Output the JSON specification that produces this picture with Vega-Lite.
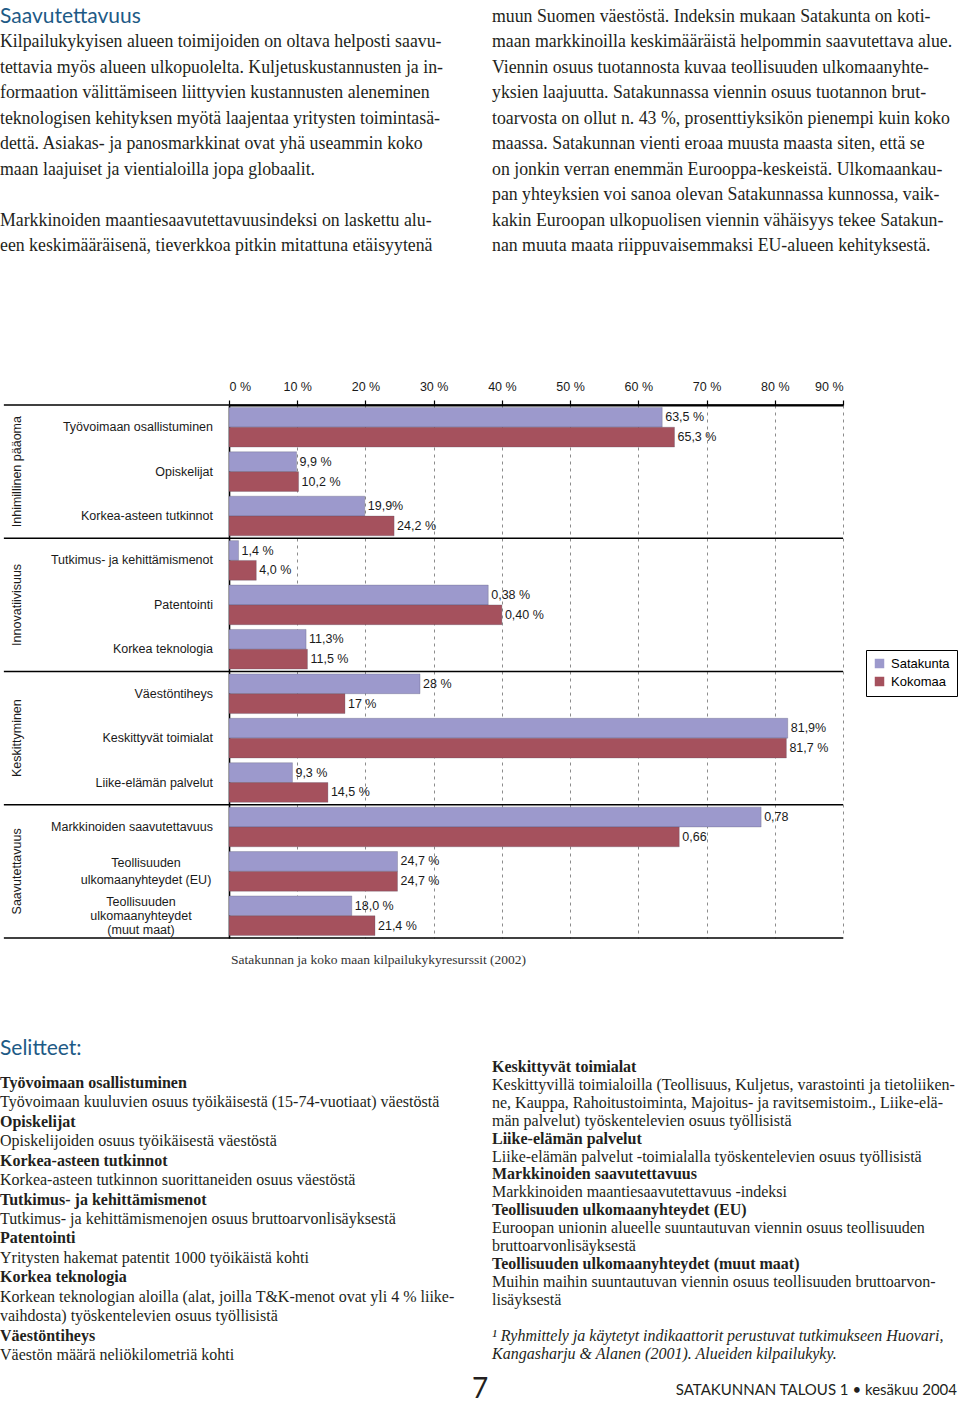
{
  "$schema": "https://vega.github.io/schema/vega-lite/v6.json",
  "padding": 0,
  "background": "white",
  "spacing": 0,
  "bounds": "flush",
  "config": {"view": {"stroke": null}, "font": "Liberation Sans"},
  "resolve": {"scale": {"x": "independent", "y": "independent"}},
  "datasets": {
    "topText": [
      {"col": "L", "line": 0, "kind": "title", "text": "Saavutettavuus"},
      {"col": "L", "line": 1, "kind": "body", "text": "Kilpailukykyisen alueen toimijoiden on oltava helposti saavu-"},
      {"col": "L", "line": 2, "kind": "body", "text": "tettavia myös alueen ulkopuolelta. Kuljetuskustannusten ja in-"},
      {"col": "L", "line": 3, "kind": "body", "text": "formaation välittämiseen liittyvien kustannusten aleneminen"},
      {"col": "L", "line": 4, "kind": "body", "text": "teknologisen kehityksen myötä laajentaa yritysten toimintasä-"},
      {"col": "L", "line": 5, "kind": "body", "text": "dettä. Asiakas- ja panosmarkkinat ovat yhä useammin koko"},
      {"col": "L", "line": 6, "kind": "body", "text": "maan laajuiset ja vientialoilla jopa globaalit."},
      {"col": "L", "line": 8, "kind": "body", "text": "\u00a0\u00a0\u00a0\u00a0\u00a0Markkinoiden maantiesaavutettavuusindeksi on laskettu alu-"},
      {"col": "L", "line": 9, "kind": "body", "text": "een keskimääräisenä, tieverkkoa pitkin mitattuna etäisyytenä"},
      {"col": "R", "line": 0, "kind": "body", "text": "muun Suomen väestöstä. Indeksin mukaan Satakunta on koti-"},
      {"col": "R", "line": 1, "kind": "body", "text": "maan markkinoilla keskimääräistä helpommin saavutettava alue."},
      {"col": "R", "line": 2, "kind": "body", "text": "Viennin osuus tuotannosta kuvaa teollisuuden ulkomaanyhte-"},
      {"col": "R", "line": 3, "kind": "body", "text": "yksien laajuutta. Satakunnassa viennin osuus tuotannon brut-"},
      {"col": "R", "line": 4, "kind": "body", "text": "toarvosta on ollut n. 43 %, prosenttiyksikön pienempi kuin koko"},
      {"col": "R", "line": 5, "kind": "body", "text": "maassa. Satakunnan vienti eroaa muusta maasta siten, että se"},
      {"col": "R", "line": 6, "kind": "body", "text": "on jonkin verran enemmän Eurooppa-keskeistä. Ulkomaankau-"},
      {"col": "R", "line": 7, "kind": "body", "text": "pan yhteyksien voi sanoa olevan Satakunnassa kunnossa, vaik-"},
      {"col": "R", "line": 8, "kind": "body", "text": "kakin Euroopan ulkopuolisen viennin vähäisyys tekee Satakun-"},
      {"col": "R", "line": 9, "kind": "body", "text": "nan muuta maata riippuvaisemmaksi EU-alueen kehityksestä."}
    ],
    "indicators": [
      {"group": "Inhimillinen pääoma", "indicator": "Työvoimaan osallistuminen", "display": "Työvoimaan osallistuminen"},
      {"group": "Inhimillinen pääoma", "indicator": "Opiskelijat", "display": "Opiskelijat"},
      {"group": "Inhimillinen pääoma", "indicator": "Korkea-asteen tutkinnot", "display": "Korkea-asteen tutkinnot"},
      {"group": "Innovatiivisuus", "indicator": "Tutkimus- ja kehittämismenot", "display": "Tutkimus- ja kehittämismenot"},
      {"group": "Innovatiivisuus", "indicator": "Patentointi", "display": "Patentointi"},
      {"group": "Innovatiivisuus", "indicator": "Korkea teknologia", "display": "Korkea teknologia"},
      {"group": "Keskittyminen", "indicator": "Väestöntiheys", "display": "Väestöntiheys"},
      {"group": "Keskittyminen", "indicator": "Keskittyvät toimialat", "display": "Keskittyvät toimialat"},
      {"group": "Keskittyminen", "indicator": "Liike-elämän palvelut", "display": "Liike-elämän palvelut"},
      {"group": "Saavutettavuus", "indicator": "Markkinoiden saavutettavuus", "display": "Markkinoiden saavutettavuus"},
      {"group": "Saavutettavuus", "indicator": "Teollisuuden ulkomaanyhteydet (EU)", "display": "Teollisuuden\nulkomaanyhteydet (EU)"},
      {"group": "Saavutettavuus", "indicator": "Teollisuuden ulkomaanyhteydet (muut maat)", "display": "Teollisuuden\nulkomaanyhteydet\n(muut maat)"}
    ],
    "groups": [
      {"group": "Inhimillinen pääoma"},
      {"group": "Innovatiivisuus"},
      {"group": "Keskittyminen"},
      {"group": "Saavutettavuus"}
    ],
    "bars": [
      {"indicator": "Työvoimaan osallistuminen", "series": "Satakunta", "value": 63.5, "label": "63,5 %"},
      {"indicator": "Työvoimaan osallistuminen", "series": "Kokomaa", "value": 65.3, "label": "65,3 %"},
      {"indicator": "Opiskelijat", "series": "Satakunta", "value": 9.9, "label": "9,9 %"},
      {"indicator": "Opiskelijat", "series": "Kokomaa", "value": 10.2, "label": "10,2 %"},
      {"indicator": "Korkea-asteen tutkinnot", "series": "Satakunta", "value": 19.9, "label": "19,9%"},
      {"indicator": "Korkea-asteen tutkinnot", "series": "Kokomaa", "value": 24.2, "label": "24,2 %"},
      {"indicator": "Tutkimus- ja kehittämismenot", "series": "Satakunta", "value": 1.4, "label": "1,4 %"},
      {"indicator": "Tutkimus- ja kehittämismenot", "series": "Kokomaa", "value": 4.0, "label": "4,0 %"},
      {"indicator": "Patentointi", "series": "Satakunta", "value": 38, "label": "0,38 %"},
      {"indicator": "Patentointi", "series": "Kokomaa", "value": 40, "label": "0,40 %"},
      {"indicator": "Korkea teknologia", "series": "Satakunta", "value": 11.3, "label": "11,3%"},
      {"indicator": "Korkea teknologia", "series": "Kokomaa", "value": 11.5, "label": "11,5 %"},
      {"indicator": "Väestöntiheys", "series": "Satakunta", "value": 28, "label": "28 %"},
      {"indicator": "Väestöntiheys", "series": "Kokomaa", "value": 17, "label": "17 %"},
      {"indicator": "Keskittyvät toimialat", "series": "Satakunta", "value": 81.9, "label": "81,9%"},
      {"indicator": "Keskittyvät toimialat", "series": "Kokomaa", "value": 81.7, "label": "81,7 %"},
      {"indicator": "Liike-elämän palvelut", "series": "Satakunta", "value": 9.3, "label": "9,3 %"},
      {"indicator": "Liike-elämän palvelut", "series": "Kokomaa", "value": 14.5, "label": "14,5 %"},
      {"indicator": "Markkinoiden saavutettavuus", "series": "Satakunta", "value": 78, "label": "0,78"},
      {"indicator": "Markkinoiden saavutettavuus", "series": "Kokomaa", "value": 66, "label": "0,66"},
      {"indicator": "Teollisuuden ulkomaanyhteydet (EU)", "series": "Satakunta", "value": 24.7, "label": "24,7 %"},
      {"indicator": "Teollisuuden ulkomaanyhteydet (EU)", "series": "Kokomaa", "value": 24.7, "label": "24,7 %"},
      {"indicator": "Teollisuuden ulkomaanyhteydet (muut maat)", "series": "Satakunta", "value": 18.0, "label": "18,0 %"},
      {"indicator": "Teollisuuden ulkomaanyhteydet (muut maat)", "series": "Kokomaa", "value": 21.4, "label": "21,4 %"}
    ],
    "notesLeft": [
      {"col": "L", "line": 0, "kind": "head", "text": "Työvoimaan osallistuminen"},
      {"col": "L", "line": 1, "kind": "body", "text": "Työvoimaan kuuluvien osuus työikäisestä (15-74-vuotiaat) väestöstä"},
      {"col": "L", "line": 2, "kind": "head", "text": "Opiskelijat"},
      {"col": "L", "line": 3, "kind": "body", "text": "Opiskelijoiden osuus työikäisestä väestöstä"},
      {"col": "L", "line": 4, "kind": "head", "text": "Korkea-asteen tutkinnot"},
      {"col": "L", "line": 5, "kind": "body", "text": "Korkea-asteen tutkinnon suorittaneiden osuus väestöstä"},
      {"col": "L", "line": 6, "kind": "head", "text": "Tutkimus- ja kehittämismenot"},
      {"col": "L", "line": 7, "kind": "body", "text": "Tutkimus- ja kehittämismenojen osuus bruttoarvonlisäyksestä"},
      {"col": "L", "line": 8, "kind": "head", "text": "Patentointi"},
      {"col": "L", "line": 9, "kind": "body", "text": "Yritysten hakemat patentit 1000 työikäistä kohti"},
      {"col": "L", "line": 10, "kind": "head", "text": "Korkea teknologia"},
      {"col": "L", "line": 11, "kind": "body", "text": "Korkean teknologian aloilla (alat, joilla T&K-menot ovat yli 4 % liike-"},
      {"col": "L", "line": 12, "kind": "body", "text": "vaihdosta) työskentelevien osuus työllisistä"},
      {"col": "L", "line": 13, "kind": "head", "text": "Väestöntiheys"},
      {"col": "L", "line": 14, "kind": "body", "text": "Väestön määrä neliökilometriä kohti"}
    ],
    "notesRight": [
      {"col": "L", "line": 0, "kind": "title", "text": "Selitteet:"},
      {"col": "R", "line": 1, "kind": "head", "text": "Keskittyvät toimialat"},
      {"col": "R", "line": 2, "kind": "body", "text": "Keskittyvillä toimialoilla (Teollisuus, Kuljetus, varastointi ja tietoliiken-"},
      {"col": "R", "line": 3, "kind": "body", "text": "ne, Kauppa, Rahoitustoiminta, Majoitus- ja ravitsemistoim., Liike-elä-"},
      {"col": "R", "line": 4, "kind": "body", "text": "män palvelut) työskentelevien osuus työllisistä"},
      {"col": "R", "line": 5, "kind": "head", "text": "Liike-elämän palvelut"},
      {"col": "R", "line": 6, "kind": "body", "text": "Liike-elämän palvelut -toimialalla työskentelevien osuus työllisistä"},
      {"col": "R", "line": 7, "kind": "head", "text": "Markkinoiden saavutettavuus"},
      {"col": "R", "line": 8, "kind": "body", "text": "Markkinoiden maantiesaavutettavuus -indeksi"},
      {"col": "R", "line": 9, "kind": "head", "text": "Teollisuuden ulkomaanyhteydet (EU)"},
      {"col": "R", "line": 10, "kind": "body", "text": "Euroopan unionin alueelle suuntautuvan viennin osuus teollisuuden"},
      {"col": "R", "line": 11, "kind": "body", "text": "bruttoarvonlisäyksestä"},
      {"col": "R", "line": 12, "kind": "head", "text": "Teollisuuden ulkomaanyhteydet (muut maat)"},
      {"col": "R", "line": 13, "kind": "body", "text": "Muihin maihin suuntautuvan viennin osuus teollisuuden bruttoarvon-"},
      {"col": "R", "line": 14, "kind": "body", "text": "lisäyksestä"},
      {"col": "R", "line": 16, "kind": "note", "text": "¹ Ryhmittely ja käytetyt indikaattorit perustuvat tutkimukseen Huovari,"},
      {"col": "R", "line": 17, "kind": "note", "text": "Kangasharju & Alanen (2001). Alueiden kilpailukyky."},
      {"col": "R", "line": 19, "kind": "page", "text": "7"},
      {"col": "R", "line": 19, "kind": "mag", "text": "SATAKUNNAN TALOUS 1 • kesäkuu 2004"}
    ]
  },
  "vconcat": [
    {
      "width": 960,
      "height": 405,
      "data": {"name": "topText"},
      "encoding": {
        "x": {"field": "col", "type": "nominal", "scale": {"type": "point", "domain": ["L", "R"], "range": [0, 492], "padding": 0}, "axis": null},
        "y": {"field": "line", "type": "quantitative", "scale": {"domain": [0, 9], "range": [17, 246], "nice": false, "zero": false}, "axis": null},
        "text": {"field": "text"}
      },
      "layer": [
        {
          "transform": [{"filter": "datum.kind === 'body'"}],
          "mark": {"type": "text", "align": "left", "baseline": "middle", "font": "Liberation Serif", "fontSize": 17.8, "color": "#231f20"}
        },
        {
          "transform": [{"filter": "datum.kind === 'title'"}],
          "mark": {"type": "text", "align": "left", "baseline": "middle", "font": "Lato", "fontSize": 21, "color": "#1d5a86"}
        }
      ]
    },
    {
      "width": 843,
      "height": 533,
      "title": {"text": "Satakunnan ja koko maan kilpailukykyresurssit (2002)", "orient": "bottom", "anchor": "start", "frame": "group", "offset": 14, "dx": 231, "font": "Liberation Serif", "fontSize": 13.5, "fontWeight": "normal", "color": "#333333"},
      "resolve": {"scale": {"y": "independent"}, "axis": {"y": "independent"}},
      "layer": [
        {
          "layer": [
            {
              "data": {"name": "bars"},
              "mark": {"type": "bar", "stroke": "#4a4a60", "strokeWidth": 0.6, "strokeOpacity": 0.45},
              "encoding": {
                "x": {
                  "field": "value", "type": "quantitative",
                  "scale": {"domain": [0, 90], "nice": false, "range": [229, 843]},
                  "axis": {
                    "orient": "top", "values": [0, 10, 20, 30, 40, 50, 60, 70, 80, 90], "labelExpr": "datum.value + ' %'", "title": null,
                    "grid": true,
                    "gridDash": {"condition": {"test": "datum.value === 0", "value": []}, "value": [3, 4]},
                    "gridColor": {"condition": {"test": "datum.value === 0", "value": "#000000"}, "value": "#8c8c8c"},
                    "gridWidth": {"condition": {"test": "datum.value === 0", "value": 1.6}, "value": 1},
                    "tickSize": 5, "tickColor": "#000", "tickWidth": 1.2, "domainColor": "#000", "domainWidth": 2,
                    "labelFont": "Liberation Sans", "labelFontSize": 12.5, "labelColor": "#1a1a1a", "labelPadding": 7
                  }
                },
                "y": {
                  "field": "indicator", "type": "nominal", "sort": null,
                  "scale": {"domain": ["Työvoimaan osallistuminen", "Opiskelijat", "Korkea-asteen tutkinnot", "Tutkimus- ja kehittämismenot", "Patentointi", "Korkea teknologia", "Väestöntiheys", "Keskittyvät toimialat", "Liike-elämän palvelut", "Markkinoiden saavutettavuus", "Teollisuuden ulkomaanyhteydet (EU)", "Teollisuuden ulkomaanyhteydet (muut maat)"], "paddingInner": 0, "paddingOuter": 0},
                  "axis": null
                },
                "yOffset": {"field": "series", "type": "nominal", "scale": {"domain": ["Satakunta", "Kokomaa"], "paddingInner": 0, "paddingOuter": 0.12}},
                "color": {
                  "field": "series", "type": "nominal",
                  "scale": {"domain": ["Satakunta", "Kokomaa"], "range": ["#9c99cc", "#a5515d"]},
                  "legend": {"title": null, "orient": "none", "legendX": 866, "legendY": 650, "strokeColor": "#000", "padding": 7, "rowPadding": 4, "symbolType": "square", "symbolSize": 90, "symbolStrokeWidth": 0, "labelFont": "Liberation Sans", "labelFontSize": 13, "labelColor": "#000", "labelOffset": 5}
                }
              }
            },
            {
              "data": {"name": "bars"},
              "mark": {"type": "text", "align": "left", "baseline": "middle", "dx": 3, "font": "Liberation Sans", "fontSize": 12.5, "color": "#1a1a1a"},
              "encoding": {
                "x": {"field": "value", "type": "quantitative"},
                "y": {"field": "indicator", "type": "nominal", "sort": null, "axis": null},
                "yOffset": {"field": "series", "type": "nominal"},
                "text": {"field": "label"}
              }
            },
            {
              "data": {"name": "indicators"},
              "transform": [{"filter": "indexof(datum.display, '\\n') < 0"}],
              "mark": {"type": "text", "align": "right", "baseline": "middle", "dx": -16, "font": "Liberation Sans", "fontSize": 12.5, "color": "#1a1a1a"},
              "encoding": {
                "x": {"datum": 0, "type": "quantitative"},
                "y": {"field": "indicator", "type": "nominal", "sort": null, "axis": null},
                "text": {"field": "display"}
              }
            },
            {
              "data": {"name": "indicators"},
              "transform": [{"filter": "split(datum.display, '\\n').length === 2"}],
              "mark": {"type": "text", "align": "center", "baseline": "middle", "dx": -83, "dy": -8.5, "lineBreak": "\n", "lineHeight": 17, "font": "Liberation Sans", "fontSize": 12.5, "color": "#1a1a1a"},
              "encoding": {
                "x": {"datum": 0, "type": "quantitative"},
                "y": {"field": "indicator", "type": "nominal", "sort": null, "axis": null},
                "text": {"field": "display"}
              }
            },
            {
              "data": {"name": "indicators"},
              "transform": [{"filter": "split(datum.display, '\\n').length === 3"}],
              "mark": {"type": "text", "align": "center", "baseline": "middle", "dx": -88, "dy": -14, "lineBreak": "\n", "lineHeight": 14, "font": "Liberation Sans", "fontSize": 12.5, "color": "#1a1a1a"},
              "encoding": {
                "x": {"datum": 0, "type": "quantitative"},
                "y": {"field": "indicator", "type": "nominal", "sort": null, "axis": null},
                "text": {"field": "display"}
              }
            }
          ]
        },
        {
          "data": {"name": "groups"},
          "encoding": {
            "y": {"field": "group", "type": "nominal", "sort": null, "scale": {"domain": ["Inhimillinen pääoma", "Innovatiivisuus", "Keskittyminen", "Saavutettavuus"], "paddingInner": 0, "paddingOuter": 0}, "axis": null}
          },
          "layer": [
            {
              "mark": {"type": "rule", "color": "#000000", "strokeWidth": 1.6},
              "encoding": {
                "x": {"datum": -33, "type": "quantitative"},
                "x2": {"datum": 90},
                "y": {"field": "group", "type": "nominal", "sort": null, "bandPosition": 0, "axis": null}
              }
            },
            {
              "transform": [{"filter": "datum.group === 'Saavutettavuus'"}],
              "mark": {"type": "rule", "color": "#000000", "strokeWidth": 1.6},
              "encoding": {
                "x": {"datum": -33, "type": "quantitative"},
                "x2": {"datum": 90},
                "y": {"field": "group", "type": "nominal", "sort": null, "bandPosition": 1, "axis": null}
              }
            },
            {
              "mark": {"type": "text", "angle": 270, "align": "center", "baseline": "middle", "dy": -212, "font": "Liberation Sans", "fontSize": 12.5, "color": "#1a1a1a"},
              "encoding": {
                "x": {"datum": 0, "type": "quantitative"},
                "text": {"field": "group"}
              }
            }
          ]
        }
      ]
    },
    {
      "width": 960,
      "height": 463,
      "resolve": {"scale": {"y": "independent"}},
      "layer": [
        {
          "data": {"name": "notesLeft"},
          "encoding": {
            "x": {"field": "col", "type": "nominal", "scale": {"type": "point", "domain": ["L", "R"], "range": [0, 492], "padding": 0}, "axis": null},
            "y": {"field": "line", "type": "quantitative", "scale": {"domain": [0, 14], "range": [145, 417], "nice": false, "zero": false}, "axis": null},
            "text": {"field": "text"}
          },
          "layer": [
            {
              "transform": [{"filter": "datum.kind === 'head'"}],
              "mark": {"type": "text", "align": "left", "baseline": "middle", "font": "Liberation Serif", "fontSize": 16, "fontWeight": "bold", "color": "#231f20"}
            },
            {
              "transform": [{"filter": "datum.kind === 'body'"}],
              "mark": {"type": "text", "align": "left", "baseline": "middle", "font": "Liberation Serif", "fontSize": 16, "color": "#231f20"}
            }
          ]
        },
        {
          "data": {"name": "notesRight"},
          "encoding": {
            "y": {"field": "line", "type": "quantitative", "scale": {"domain": [0, 19], "range": [111, 451.5], "nice": false, "zero": false}, "axis": null},
            "text": {"field": "text"}
          },
          "layer": [
            {
              "transform": [{"filter": "datum.kind === 'title'"}],
              "mark": {"type": "text", "align": "left", "baseline": "middle", "font": "Lato", "fontSize": 21, "color": "#1d5a86"},
              "encoding": {"x": {"field": "col", "type": "nominal", "scale": {"type": "point", "domain": ["L", "R"], "range": [0, 492], "padding": 0}, "axis": null}}
            },
            {
              "transform": [{"filter": "datum.kind === 'head'"}],
              "mark": {"type": "text", "align": "left", "baseline": "middle", "font": "Liberation Serif", "fontSize": 16, "fontWeight": "bold", "color": "#231f20"},
              "encoding": {"x": {"field": "col", "type": "nominal", "scale": {"type": "point", "domain": ["L", "R"], "range": [0, 492], "padding": 0}, "axis": null}}
            },
            {
              "transform": [{"filter": "datum.kind === 'body'"}],
              "mark": {"type": "text", "align": "left", "baseline": "middle", "font": "Liberation Serif", "fontSize": 16, "color": "#231f20"},
              "encoding": {"x": {"field": "col", "type": "nominal", "scale": {"type": "point", "domain": ["L", "R"], "range": [0, 492], "padding": 0}, "axis": null}}
            },
            {
              "transform": [{"filter": "datum.kind === 'note'"}],
              "mark": {"type": "text", "align": "left", "baseline": "middle", "font": "Liberation Serif", "fontSize": 16, "fontStyle": "italic", "color": "#231f20"},
              "encoding": {"x": {"field": "col", "type": "nominal", "scale": {"type": "point", "domain": ["L", "R"], "range": [0, 492], "padding": 0}, "axis": null}}
            },
            {
              "transform": [{"filter": "datum.kind === 'page'"}],
              "mark": {"type": "text", "align": "center", "baseline": "middle", "font": "Lato", "fontSize": 28, "color": "#231f20"}
            },
            {
              "transform": [{"filter": "datum.kind === 'mag'"}],
              "mark": {"type": "text", "align": "right", "baseline": "middle", "dx": -3, "font": "Lato", "fontSize": 15, "color": "#231f20"},
              "encoding": {"x": {"value": "width"}}
            }
          ]
        }
      ]
    }
  ]
}
